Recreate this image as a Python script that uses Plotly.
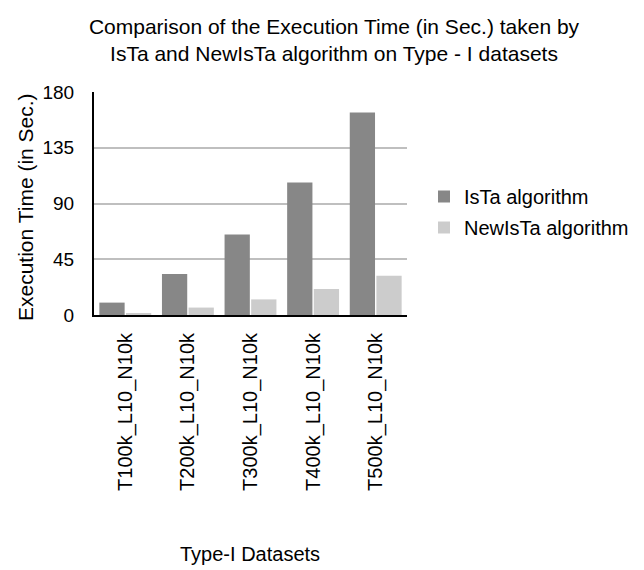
import plotly.graph_objects as go

categories = ["T100k_L10_N10k", "T200k_L10_N10k", "T300k_L10_N10k", "T400k_L10_N10k", "T500k_L10_N10k"]
ista = [10, 33, 65, 107, 163.5]
newista = [1.5, 6, 12.6, 21, 31.6]
y_ticks = [0, 45, 90, 135, 180]

FONT = "Liberation Sans, Arial, sans-serif"

fig = go.Figure()
fig.add_trace(go.Bar(x=categories, y=ista, name="IsTa algorithm", legendgroup="a",
                     marker=dict(color="#878787", line=dict(width=0))))
fig.add_trace(go.Bar(x=categories, y=newista, name="NewIsTa algorithm", legendgroup="b",
                     marker=dict(color="#cccccc", line=dict(width=0))))

fig.update_layout(
    width=644, height=570,
    paper_bgcolor="white", plot_bgcolor="white",
    margin=dict(l=94, r=237, t=92, b=255, autoexpand=False),
    barmode="group", bargap=0.15, bargroupgap=0.05,
    font=dict(family=FONT, color="#000000", size=20),
    title=dict(text="Comparison of the Execution Time (in Sec.) taken by<br>IsTa and NewIsTa algorithm on Type - I datasets",
               x=334/644, xanchor="center", y=1-33.6/570, yanchor="middle",
               font=dict(family=FONT, size=21, color="#000000")),
    showlegend=True,
    legend=dict(x=(424-94)/313, xanchor="left", y=(315-177)/223, yanchor="top",
                font=dict(family=FONT, size=20), traceorder="grouped", tracegroupgap=2,
                bgcolor="rgba(0,0,0,0)"),
)
fig.update_yaxes(range=[0, 180], tickvals=y_ticks, ticktext=[str(v) for v in y_ticks],
                 showgrid=True, gridcolor="#bfbfbf", gridwidth=2,
                 showline=True, linecolor="#000000", linewidth=2,
                 ticks="", tickfont=dict(size=19), zeroline=False, ticklabelstandoff=14,
                 automargin=False)
fig.update_xaxes(showline=True, linecolor="#000000", linewidth=2,
                 tickangle=-90, ticks="", tickfont=dict(size=20), ticklabelstandoff=8,
                 automargin=False)
fig.add_annotation(text="Execution Time (in Sec.)", xref="paper", yref="paper",
                   x=-(94-25)/313, y=(315-207)/223, xanchor="center", yanchor="middle",
                   textangle=-90, showarrow=False, font=dict(family=FONT, size=21))
fig.add_annotation(text="Type-I Datasets", xref="paper", yref="paper",
                   x=(250-94)/313, y=-(554-315)/223, xanchor="center", yanchor="middle",
                   showarrow=False, font=dict(family=FONT, size=20))

fig.write_html("out.html", config={"displayModeBar": False},
               post_script="document.body.style.margin='0';")
